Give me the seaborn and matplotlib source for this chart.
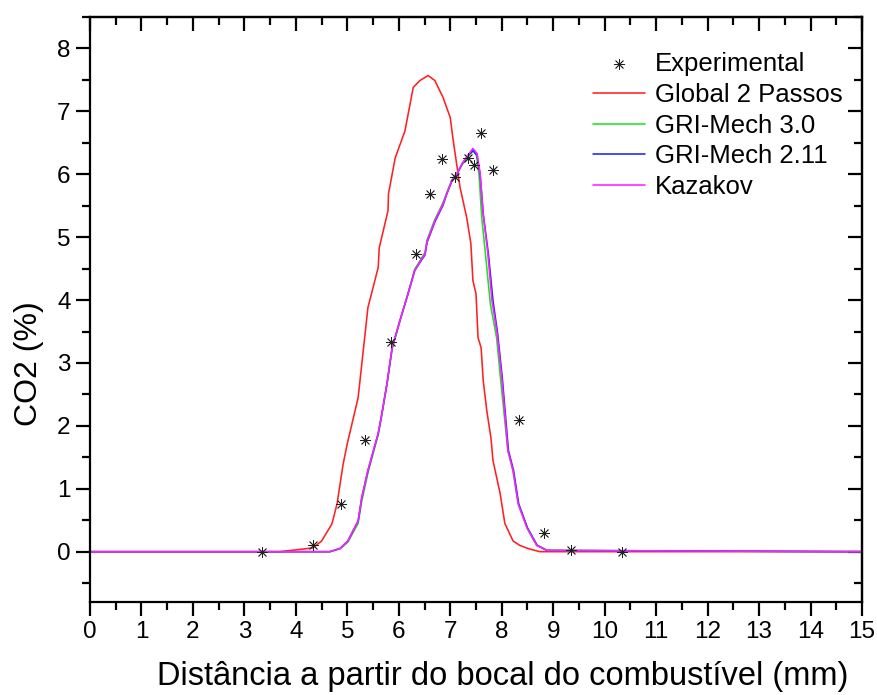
import numpy as np
import pandas as pd
import matplotlib
matplotlib.use("Agg")
import matplotlib.pyplot as plt
import seaborn as sns
from matplotlib.ticker import MultipleLocator

# Experimental CO2 measurements
exp_x = [3.34, 4.33, 4.88, 5.34, 5.85, 6.33, 6.61, 6.84, 7.09, 7.34, 7.46, 7.60, 7.83, 8.34, 8.82, 9.35, 10.34]
exp_y = [0.00, 0.10, 0.76, 1.78, 3.34, 4.74, 5.68, 6.25, 5.95, 6.26, 6.14, 6.65, 6.06, 2.10, 0.30, 0.02, 0.00]

# Global 2-step mechanism
g2_x = [0.0, 3.69, 4.33, 4.50, 4.70, 4.80, 4.92, 5.00, 5.21, 5.40, 5.60, 5.62, 5.79, 5.80, 5.93, 6.12,
        6.28, 6.41, 6.57, 6.70, 6.86, 7.00, 7.05, 7.19, 7.32, 7.40, 7.44, 7.50, 7.54, 7.60, 7.64,
        7.71, 7.79, 7.83, 7.97, 8.06, 8.22, 8.35, 8.51, 8.74, 15.0]
g2_y = [0.00, 0.00, 0.06, 0.17, 0.44, 0.76, 1.40, 1.72, 2.45, 3.88, 4.52, 4.83, 5.42, 5.69, 6.26, 6.69,
        7.38, 7.49, 7.57, 7.49, 7.22, 6.90, 6.58, 5.79, 5.31, 4.90, 4.31, 4.10, 3.40, 3.24, 2.72,
        2.24, 1.81, 1.45, 0.92, 0.45, 0.17, 0.10, 0.05, 0.00, 0.00]

# Kazakov mechanism
kz_x = [0.0, 4.66, 4.86, 5.01, 5.21, 5.28, 5.40, 5.60, 5.67, 5.77, 5.87, 6.02, 6.18, 6.31, 6.51, 6.55,
        6.70, 6.86, 6.93, 7.03, 7.13, 7.23, 7.34, 7.44, 7.52, 7.58, 7.64, 7.73, 7.81, 7.91, 8.00,
        8.06, 8.12, 8.22, 8.32, 8.49, 8.68, 8.88, 15.0]
kz_y = [0.00, 0.00, 0.05, 0.17, 0.49, 0.86, 1.29, 1.88, 2.19, 2.67, 3.24, 3.67, 4.10, 4.47, 4.74, 4.94,
        5.26, 5.53, 5.69, 5.90, 6.01, 6.17, 6.30, 6.41, 6.33, 6.01, 5.37, 4.74, 3.99, 3.47, 2.77,
        2.19, 1.61, 1.29, 0.76, 0.38, 0.10, 0.02, 0.00]

# GRI-Mech 3.0
g30_x = [0.0, 4.66, 4.86, 5.01, 5.21, 5.28, 5.40, 5.60, 5.67, 5.77, 5.87, 6.02, 6.18, 6.31, 6.51, 6.55,
         6.70, 6.86, 6.93, 7.03, 7.13, 7.23, 7.34, 7.45, 7.51, 7.56, 7.61, 7.69, 7.78, 7.90, 7.98,
         8.05, 8.12, 8.22, 8.32, 8.49, 8.68, 8.88, 15.0]
g30_y = [0.00, 0.00, 0.05, 0.15, 0.45, 0.80, 1.25, 1.86, 2.17, 2.66, 3.22, 3.66, 4.11, 4.49, 4.76, 4.96,
         5.28, 5.55, 5.70, 5.91, 6.02, 6.16, 6.28, 6.37, 6.30, 5.98, 5.33, 4.68, 3.93, 3.40, 2.72,
         2.16, 1.60, 1.28, 0.76, 0.38, 0.10, 0.02, 0.00]

# GRI-Mech 2.11
g211_x = [0.0, 4.66, 4.86, 5.01, 5.21, 5.28, 5.40, 5.60, 5.67, 5.77, 5.87, 6.02, 6.18, 6.31, 6.51, 6.55,
          6.70, 6.86, 6.93, 7.03, 7.13, 7.23, 7.34, 7.44, 7.52, 7.58, 7.64, 7.74, 7.83, 7.92, 8.01,
          8.07, 8.13, 8.23, 8.33, 8.50, 8.69, 8.88, 15.0]
g211_y = [0.00, 0.00, 0.05, 0.17, 0.49, 0.86, 1.29, 1.88, 2.19, 2.67, 3.24, 3.67, 4.10, 4.47, 4.72, 4.92,
          5.24, 5.51, 5.68, 5.89, 6.00, 6.16, 6.29, 6.38, 6.30, 6.00, 5.37, 4.74, 3.99, 3.47, 2.77,
          2.19, 1.61, 1.29, 0.76, 0.38, 0.10, 0.02, 0.00]

series_names = ["Global 2 Passos", "GRI-Mech 3.0", "GRI-Mech 2.11", "Kazakov"]
series_x = [g2_x, g30_x, g211_x, kz_x]
series_y = [g2_y, g30_y, g211_y, kz_y]
series_colors = ["#ff2020", "#20e020", "#2020ff", "#ff20ff"]

sns.set_theme(style="ticks")
plt.rcParams["font.family"] = ["Liberation Sans", "DejaVu Sans"]
for key in ["text.color", "axes.labelcolor", "xtick.color", "ytick.color", "axes.edgecolor"]:
    plt.rcParams[key] = "black"

fig = plt.figure(figsize=(8.77, 6.95), dpi=100)
ax = fig.add_axes([90 / 877, 1 - 602 / 695, (862 - 90) / 877, (602 - 17) / 695])

exp_df = pd.DataFrame({"x": exp_x, "y": exp_y})
sns.scatterplot(data=exp_df, x="x", y="y", ax=ax, marker=(8, 2, 0), s=55,
                color="#202020", linewidth=0.6, label="Experimental", zorder=5)

for name, xs, ys, col in zip(series_names, series_x, series_y, series_colors):
    df = pd.DataFrame({"x": xs, "y": ys})
    sns.lineplot(data=df, x="x", y="y", ax=ax, color=col, linewidth=1.15,
                 label=name, sort=False, estimator=None)

ax.set_xlim(0, 15)
ax.set_ylim(-0.8, 8.5)
ax.xaxis.set_major_locator(MultipleLocator(1))
ax.xaxis.set_minor_locator(MultipleLocator(0.5))
ax.yaxis.set_major_locator(MultipleLocator(1))
ax.yaxis.set_minor_locator(MultipleLocator(0.5))

for sp in ax.spines.values():
    sp.set_visible(True)
    sp.set_linewidth(1.6)
    sp.set_color("black")

ax.tick_params(axis="both", which="major", direction="out", length=10, width=1.6,
               labelsize=17.5, colors="black", pad=4)
ax.tick_params(axis="both", which="minor", direction="out", length=6, width=1.6)

# inward ticks on the top and right spines
sec_x = ax.secondary_xaxis("top")
sec_x.xaxis.set_major_locator(MultipleLocator(1))
sec_x.xaxis.set_minor_locator(MultipleLocator(0.5))
sec_x.tick_params(which="major", direction="in", length=10, width=1.6, labeltop=False)
sec_x.tick_params(which="minor", direction="in", length=6, width=1.6)
sec_x.spines["top"].set_linewidth(1.6)
sec_y = ax.secondary_yaxis("right")
sec_y.yaxis.set_major_locator(MultipleLocator(1))
sec_y.yaxis.set_minor_locator(MultipleLocator(0.5))
sec_y.tick_params(which="major", direction="in", length=10, width=1.6, labelright=False)
sec_y.tick_params(which="minor", direction="in", length=6, width=1.6)
sec_y.spines["right"].set_linewidth(1.6)

ax.set_xlabel("Distância a partir do bocal do combustível (mm)", fontsize=23.5)
ax.set_ylabel("CO2 (%)", fontsize=23)
ax.xaxis.set_label_coords(0.535, -0.1, transform=ax.transAxes)
ax.yaxis.set_label_coords(-0.06, 0.407, transform=ax.transAxes)

leg = ax.legend(loc="upper right", frameon=False, fontsize=18.5, handlelength=2.0,
                handletextpad=0.4, labelspacing=0.26, borderaxespad=0.9,
                bbox_to_anchor=(1.018, 0.997))

fig.savefig("out.png", dpi=100)
